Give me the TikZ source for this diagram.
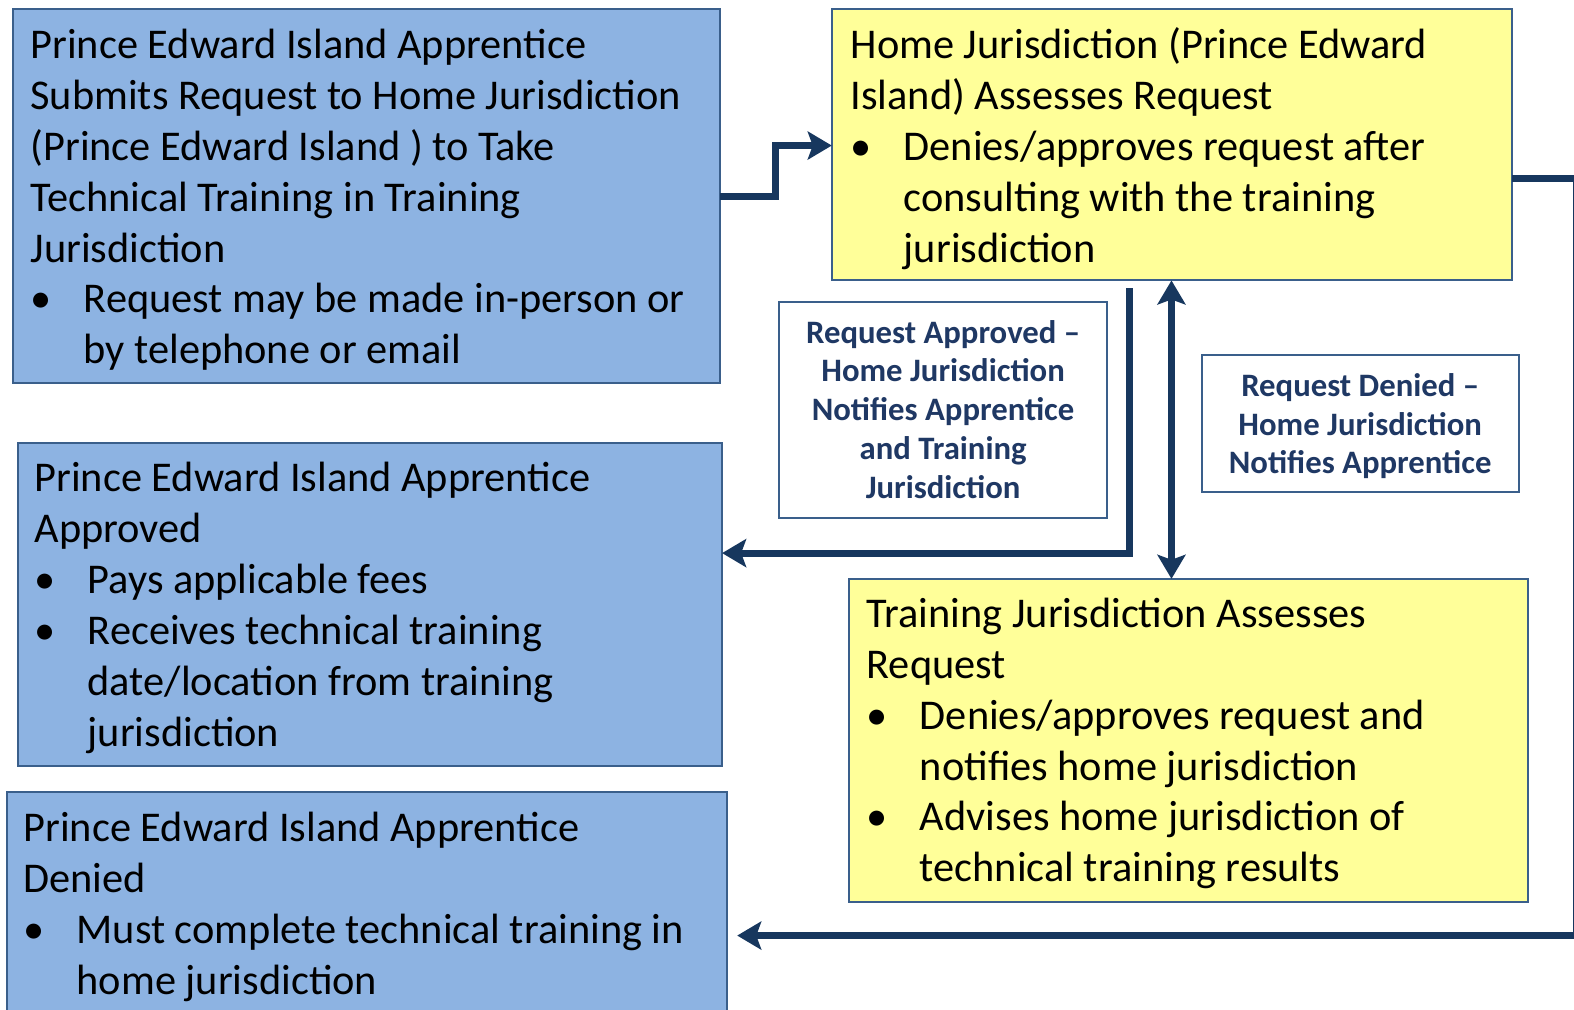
\documentclass[tikz,border=0pt]{standalone}
\usepackage{fontspec}
\setmainfont{Carlito}
\usetikzlibrary{arrows.meta}
\definecolor{boxblue}{HTML}{8DB3E2}
\definecolor{boxedge}{HTML}{3A5F8B}
\definecolor{boxyellow}{HTML}{FFFF99}
\definecolor{arrownavy}{HTML}{17375E}
\definecolor{labelnavy}{HTML}{1F3864}
\newcommand{\bl}{\makebox[26.6pt][l]{\hspace{0pt}•}}
\newcommand{\ind}{\hspace*{26.6pt}}
\tikzset{
  bluebox/.style={draw=boxedge, line width=1pt, fill=boxblue},
  yellowbox/.style={draw=boxedge, line width=1pt, fill=boxyellow},
  labelbox/.style={draw=boxedge, line width=1pt, fill=white},
  maintext/.style={anchor=base west, inner sep=0pt, align=left,
    font=\fontsize{21.18pt}{25.45pt}\selectfont},
  labeltext/.style={inner sep=0pt, align=center, text=labelnavy,
    font=\bfseries\fontsize{16.36pt}{19.47pt}\selectfont},
  conn/.style={draw=arrownavy, line width=3.5pt},
  headtip/.tip={Stealth[length=12pt,width=14pt,inset=2.5pt]},
  tip/.style={-headtip},
}
\begin{document}
\begin{tikzpicture}[x=0.50191pt,y=-0.50191pt]
\clip (0,0) rectangle (1568,1006);
\fill[white] (0,0) rectangle (1568,1006);

% boxes
\path[bluebox] (13,9) rectangle (717,382);
\node[inner sep=0pt, minimum width=353.3pt, minimum height=187.2pt] (submit) at (365,195.5) {};
\path[yellowbox] (829,9) rectangle (1506,279);
\node[inner sep=0pt, minimum width=339.8pt, minimum height=135.5pt] (home) at (1167.5,144) {};
\path[bluebox] (18,441) rectangle (719,763);
\node[inner sep=0pt, minimum width=351.8pt, minimum height=161.6pt] (approved) at (368.5,602) {};
\path[yellowbox] (846,577) rectangle (1522,899);
\node[inner sep=0pt, minimum width=339.3pt, minimum height=161.6pt] (training) at (1184,738) {};
\path[bluebox] (7,789) rectangle (724,1030);
\node[inner sep=0pt, minimum width=359.9pt, minimum height=121pt] (denied) at (365.5,909.5) {};

% label boxes
\node[labelbox, minimum width=164.1pt, minimum height=107.9pt] (lab1) at (939.5,408.5) {};
\node[labeltext] (lab1t) at (939.5,408) {Request Approved –\\Home Jurisdiction\\Notifies Apprentice\\and Training\\Jurisdiction};
\node[labelbox, minimum width=158.6pt, minimum height=68.3pt] (lab2) at (1355,422) {};
\node[labeltext] (lab2t) at (1355,424.5) {Request Denied –\\Home Jurisdiction\\Notifies Apprentice};

% texts (anchor = baseline of last line)
\node[maintext] (submitt) at (30,362.5) {Prince Edward Island Apprentice\\Submits Request to Home Jurisdiction\\(Prince Edward Island ) to Take\\Technical Training in Training\\Jurisdiction\\\bl Request may be made in-person or\\\ind by telephone or email};
\node[maintext] (homet) at (847,261.5) {Home Jurisdiction (Prince Edward\\Island) Assesses Request\\\bl Denies/approves request after\\\ind consulting with the training\\\ind jurisdiction};
\node[maintext] (approvedt) at (34,743.5) {Prince Edward Island Apprentice\\Approved\\\bl Pays applicable fees\\\bl Receives technical training\\\ind date/location from training\\\ind jurisdiction};
\node[maintext] (trainingt) at (863,878.5) {Training Jurisdiction Assesses\\Request\\\bl Denies/approves request and\\\ind notifies home jurisdiction\\\bl Advises home jurisdiction of\\\ind technical training results};
\node[maintext] (deniedt) at (23,990.5) {Prince Edward Island Apprentice\\Denied\\\bl Must complete technical training in\\\ind home jurisdiction};

% connectors
\coordinate (c1) at (773,196);
\draw[conn, tip] (submit.east |- c1) -- (c1) |- (home.west |- 0,145);
\coordinate (c2) at (1125,287);
\draw[conn, tip] (c2) |- (approved.east |- 0,551);
\draw[conn, headtip-headtip] (home.south -| 1167,0) -- (training.north -| 1167,0);
\coordinate (c3) at (1570.5,178);
\draw[conn, tip] (home.east |- c3) -- (c3) |- ([xshift=5pt]denied.east |- 0,932);
\end{tikzpicture}
\end{document}
